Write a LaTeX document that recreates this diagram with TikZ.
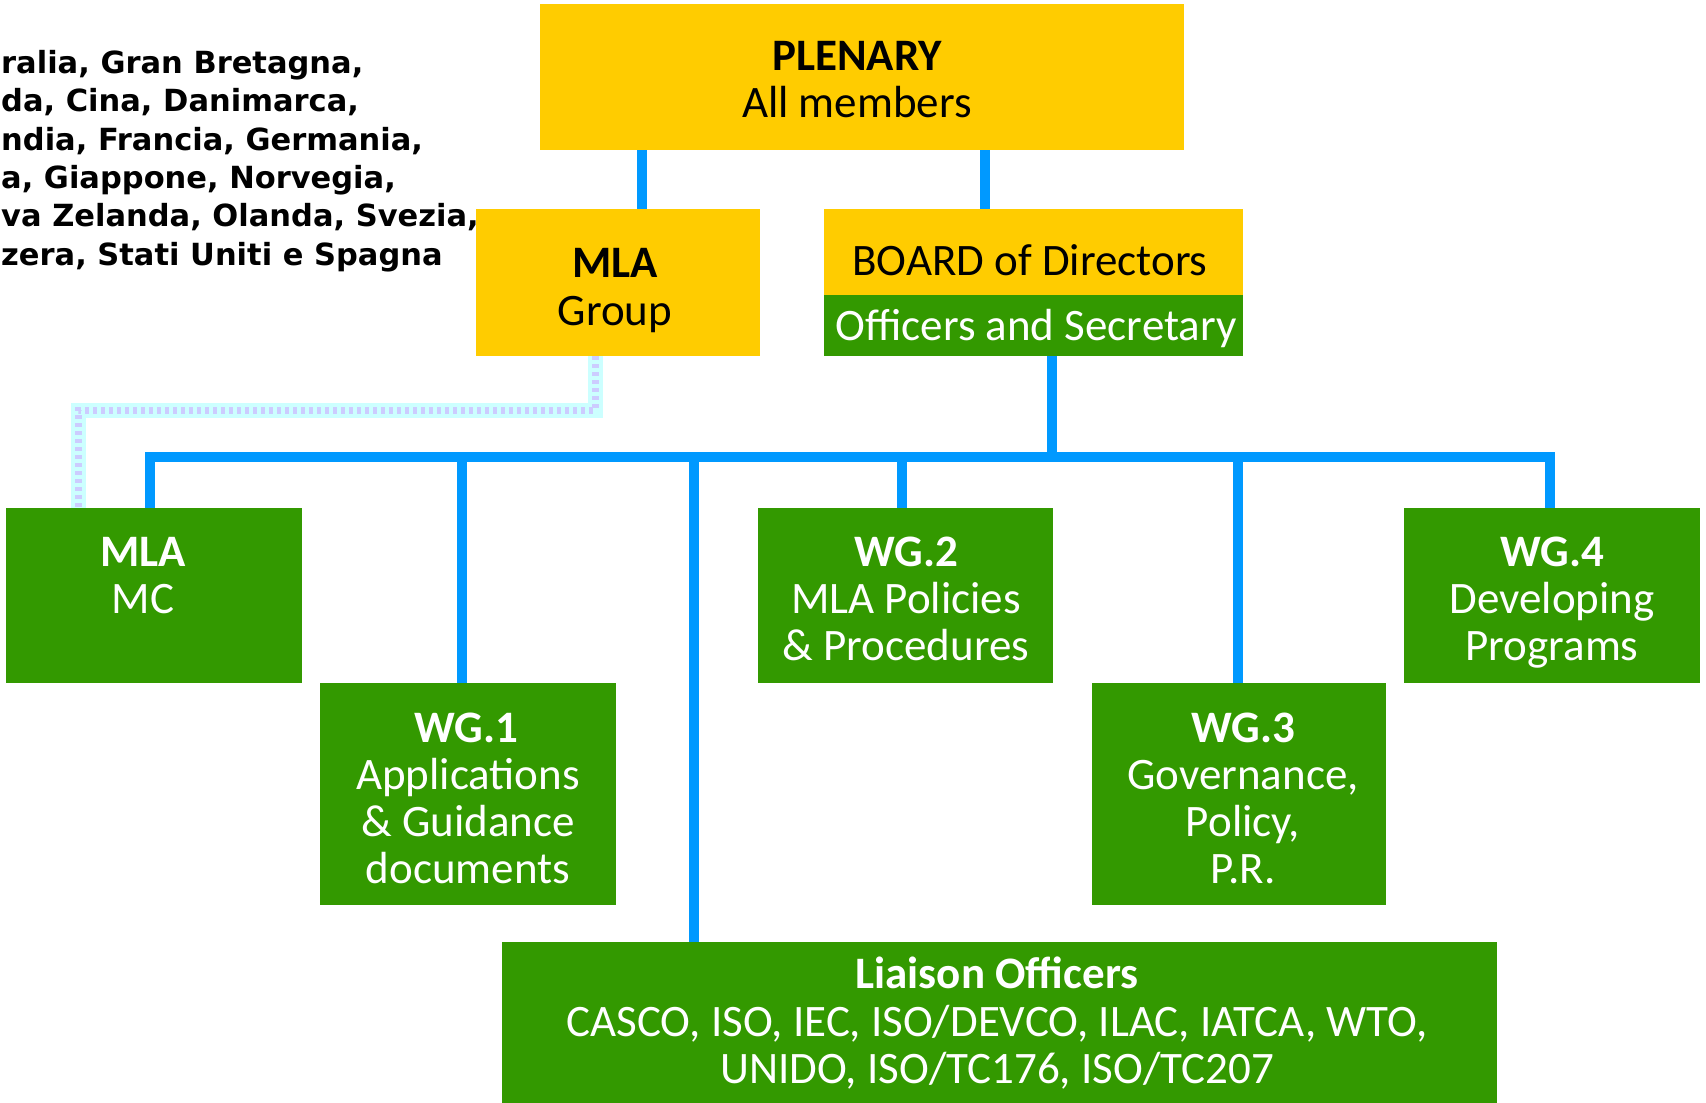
\documentclass[tikz,border=0pt]{standalone}
\usepackage{fontspec}
\setmainfont{Carlito}
\newfontfamily\leftfont{DejaVu Sans}
\definecolor{yel}{RGB}{255,204,0}
\definecolor{grn}{RGB}{51,153,0}
\definecolor{blu}{RGB}{0,153,255}
\definecolor{lcy}{RGB}{204,255,255}
\definecolor{lav}{RGB}{204,204,255}
\newcommand\boxfont{\fontsize{45}{47}\selectfont}
\newcommand\ctext{\leftfont\bfseries\fontsize{30.5}{38}\selectfont}
\tikzset{
  box/.style={rectangle, inner sep=0pt, outer sep=0pt, draw=none},
  ybox/.style={box, fill=yel},
  gbox/.style={box, fill=grn},
  bt/.style={inner sep=0pt, anchor=base, font=\boxfont\bfseries},
  nt/.style={inner sep=0pt, anchor=base, font=\boxfont},
  wht/.style={text=white},
  blk/.style={text=black},
  conn/.style={draw=blu, line width=10pt, line join=miter},
  dots/.style={draw=lcy, line width=15pt, line join=miter,
    postaction={draw=lav, line width=7pt, dash pattern=on 4pt off 4pt}},
  ltxt/.style={inner sep=0pt, anchor=base west, font=\ctext}
}
\begin{document}
\begin{tikzpicture}[x=1pt,y=-1pt]
\fill[white] (0,0) rectangle (1706,1103);
\useasboundingbox (0,0) rectangle (1706,1103);

% boxes
\node[ybox, minimum width=644pt, minimum height=146pt] (plenary) at (862,77) {};
\node[ybox, minimum width=284pt, minimum height=147pt] (mlagroup) at (618,282.5) {};
\node[ybox, minimum width=419pt, minimum height=147pt] (board) at (1033.5,282.5) {};
\node[gbox, minimum width=419pt, minimum height=61pt] (officers) at (1033.5,325.5) {};
\node[gbox, minimum width=296pt, minimum height=175pt] (mlamc) at (154,595.5) {};
\node[gbox, minimum width=296pt, minimum height=222pt] (wg1) at (468,794) {};
\node[gbox, minimum width=295pt, minimum height=175pt] (wg2) at (905.5,595.5) {};
\node[gbox, minimum width=294pt, minimum height=222pt] (wg3) at (1239,794) {};
\node[gbox, minimum width=296pt, minimum height=175pt] (wg4) at (1552,595.5) {};
\node[gbox, minimum width=995pt, minimum height=161pt] (liaison) at (999.5,1022.5) {};

% left text
\node[ltxt] (c1) at (1,73) {ralia, Gran Bretagna,};
\node[ltxt] (c2) at (1,111) {da, Cina, Danimarca,};
\node[ltxt] (c3) at (1,150) {ndia, Francia, Germania,};
\node[ltxt] (c4) at (1,188) {a, Giappone, Norvegia,};
\node[ltxt] (c5) at (1,226) {va Zelanda, Olanda, Svezia,};
\node[ltxt] (c6) at (1,265) {zera, Stati Uniti e Spagna};

% connectors
\coordinate (busL) at (150,457);
\coordinate (busR) at (1550,457);
\draw[conn] (plenary.south -| 642,0) -- (mlagroup.north -| 642,0);
\draw[conn] (plenary.south -| 985,0) -- (board.north -| 985,0);
\draw[conn] (officers.south -| 1052,0) -- (busL -| 1052,0);
\draw[conn] (mlamc.north -| busL) -- (busL) -- (busR) -- (wg4.north -| busR);
\draw[conn] (busL -| 462,0) -- (wg1.north -| 462,0);
\draw[conn] (busL -| 694,0) -- (liaison.north -| 694,0);
\draw[conn] (busL -| 902,0) -- (wg2.north -| 902,0);
\draw[conn] (busL -| 1238,0) -- (wg3.north -| 1238,0);
\draw[dots] (mlagroup.south -| 595,0) -- (595,410) -- (78,410) -- (mlamc.north -| 78,0);

% texts
\node[bt, blk] (pl1) at (857,70) {PLENARY};
\node[nt, blk] (pl2) at (857,117) {All members};
\node[bt, blk] (mg1) at (615,277) {MLA};
\node[nt, blk] (mg2) at (615,325) {Group};
\node[nt, blk] (bd1) at (1030,275) {BOARD of Directors};
\node[nt, wht] (of1) at (1036,340) {Officers and Secretary};
\node[bt, wht] (mc1) at (143,566) {MLA};
\node[nt, wht] (mc2) at (143,613) {MC};
\node[bt, wht] (w21) at (906,566) {WG.2};
\node[nt, wht] (w22) at (906,613) {MLA Policies};
\node[nt, wht] (w23) at (906,660) {\& Procedures};
\node[bt, wht] (w41) at (1552,566) {WG.4};
\node[nt, wht] (w42) at (1552,613) {Developing};
\node[nt, wht] (w43) at (1552,660) {Programs};
\node[bt, wht] (w11) at (466,742) {WG.1};
\node[nt, wht] (w12) at (468,789) {Applications};
\node[nt, wht] (w13) at (468,836) {\& Guidance};
\node[nt, wht] (w14) at (468,883) {documents};
\node[bt, wht] (w31) at (1243,742) {WG.3};
\node[nt, wht] (w32) at (1243,789) {Governance,};
\node[nt, wht] (w33) at (1243,836) {Policy,};
\node[nt, wht] (w34) at (1243,883) {P.R.};
\node[bt, wht] (li1) at (997,988) {Liaison Officers};
\node[nt, wht] (li2) at (997,1036) {CASCO, ISO, IEC, ISO/DEVCO, ILAC, IATCA, WTO,};
\node[nt, wht] (li3) at (997,1083) {UNIDO, ISO/TC176, ISO/TC207};
\end{tikzpicture}
\end{document}
